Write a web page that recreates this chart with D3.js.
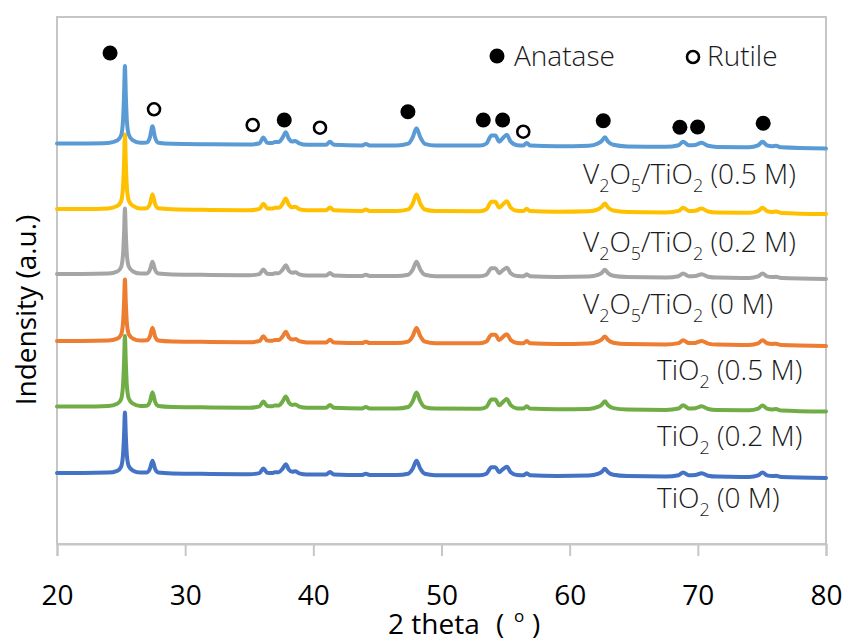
<!DOCTYPE html>
<html>
<head>
<meta charset="utf-8">
<script src="https://cdn.jsdelivr.net/npm/d3@7"></script>
<style>
  html, body { margin: 0; padding: 0; background: #fff; }
  svg { display: block; font-family: "Open Sans", "Noto Sans", sans-serif; }
</style>
</head>
<body>
<svg id="chart" width="845" height="642"></svg>
<script>
// 2θ sampling positions (degrees)
const twoTheta = [
  20, 22, 24, 24.7, 25.0, 25.15, 25.23, 25.3, 25.37, 25.45, 25.6, 25.9, 26.5,
  27.0, 27.25, 27.45, 27.65, 27.9, 29, 32, 35, 35.8, 36.1, 36.4, 36.8, 37.0,
  37.3, 37.6, 37.85, 38.1, 38.35, 38.6, 38.9, 39.5, 41.0, 41.3, 41.6, 43.8,
  44.1, 44.4, 46.5, 47.4, 47.75, 48.05, 48.35, 48.7, 49.5, 53.0, 53.5, 53.9,
  54.2, 54.5, 54.8, 55.1, 55.4, 55.9, 56.4, 56.65, 56.9, 59, 61.5, 62.2, 62.5,
  62.75, 63.0, 63.4, 64.5, 67.5, 68.5, 68.85, 69.3, 69.8, 70.3, 70.8, 71.5,
  74.0, 74.7, 75.05, 75.4, 75.8, 76.1, 76.5, 80
];

// slowly falling background shared by all patterns
const background = [
  5, 4.8, 4.6, 4.5, 4.5, 4.5, 4.5, 4.5, 4.5, 4.5, 4.5, 4.5, 4.4,
  4.4, 4.3, 4.3, 4.3, 4.3, 4.2, 3.9, 3.5, 3.4, 3.4, 3.3, 3.3, 3.3,
  3.3, 3.3, 3.3, 3.2, 3.2, 3.2, 3.2, 3.1, 3, 3, 3, 2.7,
  2.7, 2.7, 2.4, 2.3, 2.3, 2.3, 2.3, 2.2, 2.2, 1.9, 1.8, 1.8,
  1.8, 1.8, 1.8, 1.8, 1.8, 1.8, 1.8, 1.8, 1.8, 1.5, 1.3, 1.2, 1.2,
  1.2, 1.2, 1.2, 1.1, 0.9, 0.8, 0.8, 0.8, 0.8, 0.8, 0.8, 0.8,
  0.5, 0.4, 0.4, 0.4, 0.4, 0.4, 0.4, 0
];

// diffraction intensities (a.u.) above background
const tio2_0M = [
  0, 0.2, 0.8, 2.7, 6.7, 18.3, 37.8, 61, 37.8, 18.3, 7.3, 3.1, 1,
  1.2, 5, 13, 5, 1.2, 0.4, 0.2, 0.3, 1.5, 6, 2, 1.8, 2.5,
  2.5, 6, 10.5, 5, 3, 3.5, 1.5, 0.5, 0.6, 3, 0.6, 0.3,
  1.5, 0.3, 0.5, 2, 7, 15, 7, 2, 0.6, 0.8, 2.5, 9,
  9, 4, 7, 9.5, 4, 1.2, 1, 3, 1, 0.6, 1.2, 3, 5,
  8, 4.5, 2, 0.8, 0.6, 2, 4.8, 2, 2.2, 4, 1.5, 0.6,
  0.6, 2.2, 5, 2.2, 1.5, 1.8, 0.6, 0
];
const tio2_02M = [
  0, 0.2, 0.9, 3.2, 7.8, 21.3, 44, 71, 44, 21.3, 8.5, 3.6, 1.1,
  1.3, 5.6, 15, 5.6, 1.3, 0.4, 0.2, 0.3, 1.7, 6.7, 2.2, 2, 2.8,
  2.8, 6.7, 11.8, 5.6, 3.4, 3.9, 1.7, 0.6, 0.7, 3.4, 0.7, 0.3,
  1.7, 0.3, 0.6, 2.2, 7.8, 16.8, 7.8, 2.2, 0.7, 0.9, 2.8, 10.1,
  10.1, 4.5, 7.8, 10.6, 4.5, 1.3, 1.1, 3.4, 1.1, 0.7, 1.3, 3.4, 5.6,
  9, 5, 2.2, 0.9, 0.7, 2.2, 5.4, 2.2, 2.5, 4.5, 1.7, 0.7,
  0.7, 2.5, 5.6, 2.5, 1.7, 2, 0.7, 0
];
const tio2_05M = [
  0, 0.2, 0.8, 2.8, 6.8, 18.6, 38.4, 62, 38.4, 18.6, 7.4, 3.1, 1,
  1.3, 5.3, 14, 5.3, 1.3, 0.4, 0.2, 0.3, 1.6, 6.3, 2.1, 1.9, 2.6,
  2.6, 6.3, 11, 5.3, 3.2, 3.7, 1.6, 0.5, 0.6, 3.2, 0.6, 0.3,
  1.6, 0.3, 0.5, 2.1, 7.4, 15.8, 7.4, 2.1, 0.6, 0.8, 2.6, 9.5,
  9.5, 4.2, 7.4, 10, 4.2, 1.3, 1, 3.2, 1, 0.6, 1.3, 3.2, 5.3,
  8.4, 4.7, 2.1, 0.8, 0.6, 2.1, 5, 2.1, 2.3, 4.2, 1.6, 0.6,
  0.6, 2.3, 5.3, 2.3, 1.6, 1.9, 0.6, 0
];
const v2o5_0M = [
  0, 0.2, 0.8, 3, 7.3, 19.8, 40.9, 66, 40.9, 19.8, 7.9, 3.3, 1,
  1.2, 5, 13, 5, 1.2, 0.4, 0.2, 0.3, 1.5, 6, 2, 1.8, 2.5,
  2.5, 6, 10.5, 5, 3, 3.5, 1.5, 0.5, 0.6, 3, 0.6, 0.3,
  1.5, 0.3, 0.5, 2, 7, 15, 7, 2, 0.6, 0.8, 2.5, 9,
  9, 4, 7, 9.5, 4, 1.2, 1, 3, 1, 0.6, 1.2, 3, 5,
  8, 4.5, 2, 0.8, 0.6, 2, 4.8, 2, 2.2, 4, 1.5, 0.6,
  0.6, 2.2, 5, 2.2, 1.5, 1.8, 0.6, 0
];
const v2o5_02M = [
  0, 0.2, 0.9, 3.4, 8.3, 22.5, 46.5, 75, 46.5, 22.5, 9, 3.8, 1.2,
  1.4, 5.8, 15.5, 5.8, 1.4, 0.5, 0.2, 0.3, 1.7, 6.9, 2.3, 2.1, 2.9,
  2.9, 6.9, 12.1, 5.8, 3.5, 4, 1.7, 0.6, 0.7, 3.5, 0.7, 0.3,
  1.7, 0.3, 0.6, 2.3, 8, 17.3, 8, 2.3, 0.7, 0.9, 2.9, 10.4,
  10.4, 4.6, 8, 10.9, 4.6, 1.4, 1.2, 3.5, 1.2, 0.7, 1.4, 3.5, 5.8,
  9.2, 5.2, 2.3, 0.9, 0.7, 2.3, 5.5, 2.3, 2.5, 4.6, 1.7, 0.7,
  0.7, 2.5, 5.8, 2.5, 1.7, 2.1, 0.7, 0
];
const v2o5_05M = [
  0, 0.3, 1, 3.5, 8.6, 23.4, 48.4, 78, 48.4, 23.4, 9.4, 3.9, 1.3,
  1.5, 6.8, 18, 6.8, 1.5, 0.5, 0.3, 0.4, 1.9, 7.5, 2.5, 2.3, 3.1,
  3.1, 7.5, 13, 6.3, 3.8, 4.4, 1.9, 0.6, 0.8, 3.8, 0.8, 0.4,
  1.9, 0.4, 0.6, 2.5, 8.8, 18, 8.8, 2.5, 0.8, 1, 3.1, 11.3,
  11.3, 5, 8.8, 11.9, 5, 1.5, 1.3, 3.8, 1.3, 0.8, 1.5, 3.8, 6.3,
  10, 5.6, 2.5, 1, 0.8, 2.5, 6, 2.5, 2.8, 5, 1.9, 0.8,
  0.8, 2.8, 6.3, 2.8, 1.9, 2.3, 0.8, 0
];

// series in drawing order, with their vertical stacking offsets (a.u.)
const seriesNames = [
  "TiO_2 (0 M)", "TiO_2 (0.5 M)", "V_2O_5/TiO_2 (0 M)",
  "V_2O_5/TiO_2 (0.2 M)", "V_2O_5/TiO_2 (0.5 M)", "TiO_2 (0.2 M)"
];
const seriesValues = [tio2_0M, tio2_05M, v2o5_0M, v2o5_02M, v2o5_05M, tio2_02M];
const seriesOffsets = [66, 198, 265, 330, 395.5, 132.5];
const seriesColors = ["#4472C4", "#ED7D31", "#A5A5A5", "#FFC000", "#5B9BD5", "#70AD47"];

// phase markers: 2θ position and height (a.u.)
const anataseTheta = [24.14, 37.73, 47.38, 53.26, 54.77, 62.62, 68.6, 69.98, 75.1];
const anataseLevel = [491, 424, 432.3, 424, 424, 423.3, 416.7, 417, 420.7];
const rutileTheta = [27.57, 35.27, 40.52, 56.38];
const rutileLevel = [434.7, 419, 416.3, 412.3];

const xTicks = [20, 30, 40, 50, 60, 70, 80];

const svg = d3.select("#chart");
const margin = { left: 57, right: 19, top: 17, bottom: 98 };
const W = 845, H = 642;
const plotL = margin.left, plotR = W - margin.right;
const plotT = margin.top, plotB = H - margin.bottom;

const x = d3.scaleLinear().domain([20, 80]).range([plotL, plotR]);
const y = d3.scaleLinear().domain([0, plotB - plotT]).range([plotB, plotT]);

const gridColor = "#c6c6c6";

// plot frame
svg.append("rect")
  .attr("x", plotL).attr("y", plotT)
  .attr("width", plotR - plotL).attr("height", plotB - plotT)
  .attr("fill", "none").attr("stroke", gridColor).attr("stroke-width", 2);

// x axis ticks and labels
const xAxis = d3.axisBottom(x).tickValues(xTicks).tickSize(12).tickPadding(29).tickFormat(d3.format("d"));
const gx = svg.append("g").attr("transform", `translate(0,${plotB})`).call(xAxis);
gx.select(".domain").attr("stroke", gridColor).attr("stroke-width", 2);
gx.selectAll(".tick line").attr("stroke", gridColor).attr("stroke-width", 2);
gx.selectAll(".tick text")
  .attr("fill", "#000").attr("font-size", 28)
  .attr("font-family", "'Open Sans', sans-serif");

// diffraction patterns
const line = d3.line().curve(d3.curveMonotoneX);
seriesValues.forEach((vals, i) => {
  const pts = twoTheta.map((t, k) => [x(t), y(seriesOffsets[i] + background[k] + vals[k])]);
  svg.append("path")
    .attr("d", line(pts))
    .attr("fill", "none")
    .attr("stroke", seriesColors[i])
    .attr("stroke-width", 4)
    .attr("stroke-linejoin", "round")
    .attr("stroke-linecap", "round");
});

// text with numeric subscripts written as "_n"
function richText(sel, str, size) {
  const parts = str.split(/_(\d)/);
  let shifted = false;
  parts.forEach((p, idx) => {
    if (p === "") return;
    const isSub = idx % 2 === 1;
    const t = sel.append("tspan").text(p);
    if (isSub) {
      t.attr("font-size", size * 0.64).attr("dy", shifted ? 0 : size * 0.3);
      shifted = true;
    } else {
      t.attr("font-size", size).attr("dy", shifted ? -size * 0.3 : 0);
      shifted = false;
    }
  });
}

// series labels under each pattern
const labelStart = { V: 583, T: 657 };
const labelDrop = [30, 34, 35, 38, 35, 34];
seriesNames.forEach((name, i) => {
  const t = svg.append("text")
    .attr("x", name.startsWith("V") ? labelStart.V : labelStart.T)
    .attr("y", y(seriesOffsets[i]) + labelDrop[i])
    .attr("fill", "#1a1a1a")
    .attr("font-weight", 300);
  richText(t, name, 28);
});

// phase markers
svg.append("g").selectAll("circle.anatase")
  .data(anataseTheta).join("circle")
  .attr("cx", d => x(d))
  .attr("cy", (d, i) => y(anataseLevel[i]))
  .attr("r", 7.5).attr("fill", "#000");
svg.append("g").selectAll("circle.rutile")
  .data(rutileTheta).join("circle")
  .attr("cx", d => x(d))
  .attr("cy", (d, i) => y(rutileLevel[i]))
  .attr("r", 6).attr("fill", "#fff").attr("stroke", "#000").attr("stroke-width", 2.6);

// phase key
const key = svg.append("g");
key.append("circle").attr("cx", 497).attr("cy", 56).attr("r", 7.5).attr("fill", "#000");
key.append("text").attr("x", 514).attr("y", 66).attr("font-size", 28).attr("font-weight", 300)
  .attr("fill", "#1a1a1a").text("Anatase");
key.append("circle").attr("cx", 693).attr("cy", 57).attr("r", 6).attr("fill", "#fff")
  .attr("stroke", "#000").attr("stroke-width", 2.6);
key.append("text").attr("x", 707).attr("y", 66).attr("font-size", 28).attr("font-weight", 300)
  .attr("fill", "#1a1a1a").text("Rutile");

// axis titles
svg.append("text")
  .attr("transform", `translate(36,310) rotate(-90)`)
  .attr("text-anchor", "middle")
  .attr("font-size", 28).attr("fill", "#000")
  .text("Indensity (a.u.)");

const xt = svg.append("text")
  .attr("x", 388).attr("y", 634)
  .attr("font-size", 28).attr("fill", "#000");
xt.append("tspan").text("2 theta");
xt.append("tspan").attr("x", 496).text("(");
xt.append("tspan").attr("x", 514).attr("font-size", 17).attr("dy", -12).text("o");
xt.append("tspan").attr("x", 532).attr("dy", 12).text(")");
</script>
</body>
</html>
